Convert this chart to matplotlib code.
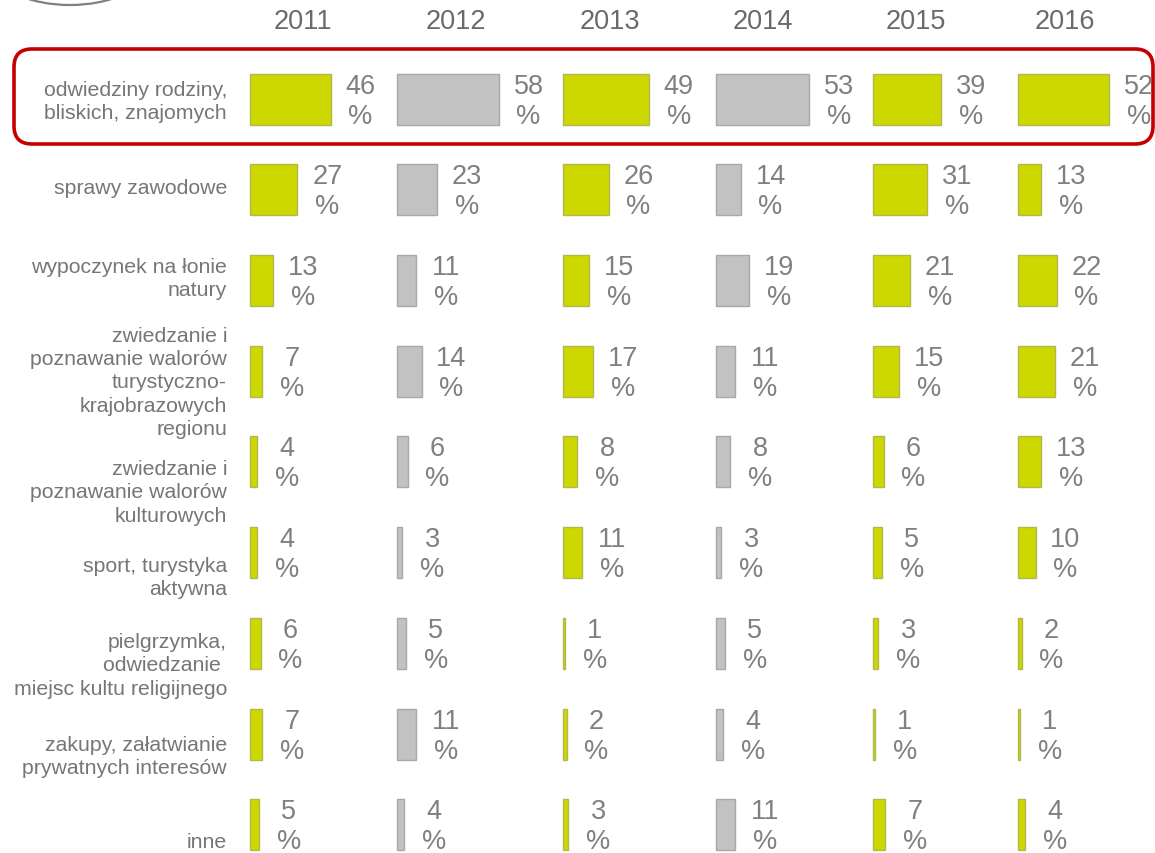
import matplotlib
matplotlib.use("Agg")
from matplotlib import pyplot as plt
from matplotlib.patches import FancyBboxPatch, Ellipse

plt.rcParams['font.family'] = ['Liberation Sans', 'DejaVu Sans']

# data
years = ['2011', '2012', '2013', '2014', '2015', '2016']
categories = ['odwiedziny rodziny,\nbliskich, znajomych',
              'sprawy zawodowe',
              'wypoczynek na łonie\nnatury',
              'zwiedzanie i\npoznawanie walorów\nturystyczno-\nkrajobrazowych\nregionu',
              'zwiedzanie i\npoznawanie walorów\nkulturowych',
              'sport, turystyka\naktywna',
              'pielgrzymka,\nodwiedzanie \nmiejsc kultu religijnego',
              'zakupy, załatwianie\nprywatnych interesów',
              'inne']
v2011 = [46, 27, 13, 7, 4, 4, 6, 7, 5]
v2012 = [58, 23, 11, 14, 6, 3, 5, 11, 4]
v2013 = [49, 26, 15, 17, 8, 11, 1, 2, 3]
v2014 = [53, 14, 19, 11, 8, 3, 5, 4, 11]
v2015 = [39, 31, 21, 15, 6, 5, 3, 1, 7]
v2016 = [52, 13, 22, 21, 13, 10, 2, 1, 4]
series = [v2011, v2012, v2013, v2014, v2015, v2016]

# layout (pixels)
W, H = 1155, 854
col_left = [250, 397, 563, 716, 873, 1018]
year_x = [303, 456, 610, 763, 916, 1065]
row_y = [100, 190, 281, 372, 462, 553, 644, 735, 825]
label_y = [102, 189, 279, 383, 493, 578, 666, 757, 843]
scale = 1.75
bar_h = 51

green = '#cdd700'
green_edge = '#b3b84e'
grey = '#c2c2c2'
grey_edge = '#a8a8a8'
col_colors = [green, grey, green, grey, green, green]
col_edges = [green_edge, grey_edge, green_edge, grey_edge, green_edge, green_edge]

fig = plt.figure(figsize=(W / 100, H / 100), dpi=100)
ax = fig.add_axes([0, 0, 1, 1])
ax.set_xlim(0, W)
ax.set_ylim(H, 0)
ax.axis('off')

for j, vals in enumerate(series):
    widths = [v * scale for v in vals]
    ax.barh(row_y, widths, left=col_left[j], height=bar_h,
            color=col_colors[j], edgecolor=col_edges[j], linewidth=1.0)
    for i, v in enumerate(vals):
        x = col_left[j] + v * scale + 30
        ax.text(x, row_y[i] + 2, '%d\n%%' % v, ha='center', va='center',
                multialignment='center', fontsize=19.5, color='#808080',
                linespacing=1.22)
    ax.text(year_x[j], 22, years[j], ha='center', va='center',
            fontsize=19.5, color='#6a6a6a')

for i, lab in enumerate(categories):
    ax.text(227, label_y[i], lab, ha='right', va='center',
            multialignment='right', fontsize=15.3, color='#767676',
            linespacing=1.28)

# red frame around first row
box = FancyBboxPatch((14, 50), 1139, 95,
                     boxstyle='round,pad=0,rounding_size=18',
                     fill=False, edgecolor='#c40000', linewidth=2.6)
ax.add_patch(box)

# circle in the top-left corner
ax.add_patch(Ellipse((70, -30), 150, 72, fill=False,
                     edgecolor='#808080', linewidth=1.6))

fig.savefig('out.png', dpi=100)
